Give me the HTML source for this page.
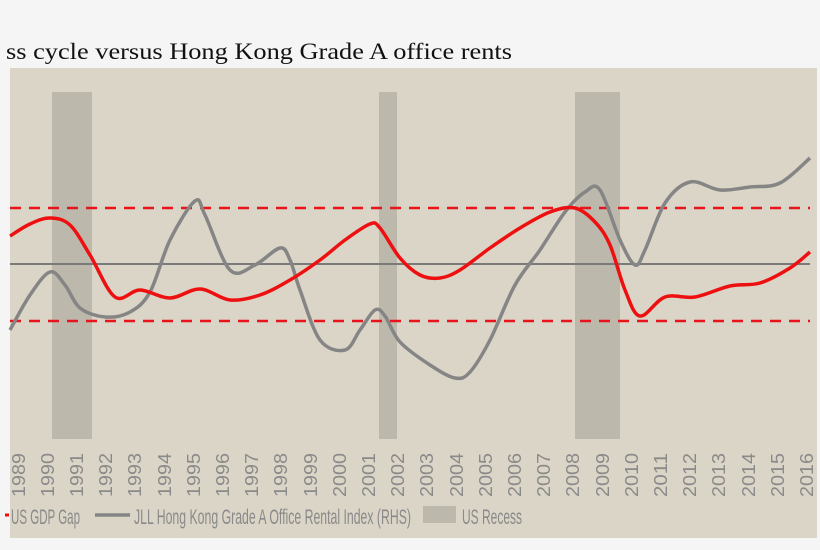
<!DOCTYPE html>
<html><head><meta charset="utf-8"><style>
html,body{margin:0;padding:0;background:#f5f5f5;width:820px;height:550px;overflow:hidden}
</style></head><body>
<svg width="820" height="550" xmlns="http://www.w3.org/2000/svg">
<rect width="820" height="550" fill="#f5f5f5"/>
<text x="6" y="59" font-family="Liberation Serif, serif" font-size="23" fill="#111" textLength="506" lengthAdjust="spacingAndGlyphs">ss cycle versus Hong Kong Grade A office rents</text>
<rect x="10" y="68" width="807" height="470" fill="#dbd5c7"/>
<g fill="#bdb8ac">
<rect x="52" y="92" width="40" height="347"/>
<rect x="379" y="92" width="18" height="347"/>
<rect x="575" y="92" width="45" height="347"/>
</g>
<line x1="10" y1="264" x2="810" y2="264" stroke="#7a7a7a" stroke-width="2"/>
<line x1="10" y1="208" x2="810" y2="208" stroke="#e8141c" stroke-width="2.5" stroke-dasharray="11,8"/>
<line x1="10" y1="321" x2="810" y2="321" stroke="#e8141c" stroke-width="2.5" stroke-dasharray="11,8"/>
<polyline class="sm" fill="none" stroke="#858585" stroke-width="3.5" stroke-linejoin="round" points="10,330 30,295 50,272 65,285 80,308 105,317 130,312 150,292 170,240 195,201 205,215 230,270 255,265 280,248 290,260 300,290 320,340 345,350 360,330 375,310 385,316 400,342 430,365 455,378 470,372 490,340 515,285 540,250 565,212 585,192 600,190 620,240 635,265 645,250 665,203 690,182 720,190 750,187 780,183 810,158"/>
<polyline class="sm" fill="none" stroke="#ee1010" stroke-width="3.5" stroke-linejoin="round" points="10,236 30,224 50,218 70,225 90,255 115,297 140,290 170,298 200,289 230,300 260,295 290,280 320,260 345,240 370,224 380,228 400,258 420,275 440,278 460,270 490,248 520,228 550,212 575,208 595,222 610,245 625,290 640,316 665,297 695,297 730,286 760,283 790,268 810,252"/>
<g font-family="Liberation Sans Narrow, Liberation Sans, sans-serif" font-size="18" fill="#8a8a8a">
<text transform="translate(25,497) rotate(-90)" textLength="44" lengthAdjust="spacingAndGlyphs">1989</text>
<text transform="translate(54,497) rotate(-90)" textLength="44" lengthAdjust="spacingAndGlyphs">1990</text>
<text transform="translate(83,497) rotate(-90)" textLength="44" lengthAdjust="spacingAndGlyphs">1991</text>
<text transform="translate(112,497) rotate(-90)" textLength="44" lengthAdjust="spacingAndGlyphs">1992</text>
<text transform="translate(141,497) rotate(-90)" textLength="44" lengthAdjust="spacingAndGlyphs">1993</text>
<text transform="translate(171,497) rotate(-90)" textLength="44" lengthAdjust="spacingAndGlyphs">1994</text>
<text transform="translate(200,497) rotate(-90)" textLength="44" lengthAdjust="spacingAndGlyphs">1995</text>
<text transform="translate(229,497) rotate(-90)" textLength="44" lengthAdjust="spacingAndGlyphs">1996</text>
<text transform="translate(258,497) rotate(-90)" textLength="44" lengthAdjust="spacingAndGlyphs">1997</text>
<text transform="translate(287,497) rotate(-90)" textLength="44" lengthAdjust="spacingAndGlyphs">1998</text>
<text transform="translate(317,497) rotate(-90)" textLength="44" lengthAdjust="spacingAndGlyphs">1999</text>
<text transform="translate(346,497) rotate(-90)" textLength="44" lengthAdjust="spacingAndGlyphs">2000</text>
<text transform="translate(375,497) rotate(-90)" textLength="44" lengthAdjust="spacingAndGlyphs">2001</text>
<text transform="translate(404,497) rotate(-90)" textLength="44" lengthAdjust="spacingAndGlyphs">2002</text>
<text transform="translate(433,497) rotate(-90)" textLength="44" lengthAdjust="spacingAndGlyphs">2003</text>
<text transform="translate(463,497) rotate(-90)" textLength="44" lengthAdjust="spacingAndGlyphs">2004</text>
<text transform="translate(492,497) rotate(-90)" textLength="44" lengthAdjust="spacingAndGlyphs">2005</text>
<text transform="translate(521,497) rotate(-90)" textLength="44" lengthAdjust="spacingAndGlyphs">2006</text>
<text transform="translate(550,497) rotate(-90)" textLength="44" lengthAdjust="spacingAndGlyphs">2007</text>
<text transform="translate(579,497) rotate(-90)" textLength="44" lengthAdjust="spacingAndGlyphs">2008</text>
<text transform="translate(609,497) rotate(-90)" textLength="44" lengthAdjust="spacingAndGlyphs">2009</text>
<text transform="translate(638,497) rotate(-90)" textLength="44" lengthAdjust="spacingAndGlyphs">2010</text>
<text transform="translate(667,497) rotate(-90)" textLength="44" lengthAdjust="spacingAndGlyphs">2011</text>
<text transform="translate(696,497) rotate(-90)" textLength="44" lengthAdjust="spacingAndGlyphs">2012</text>
<text transform="translate(725,497) rotate(-90)" textLength="44" lengthAdjust="spacingAndGlyphs">2013</text>
<text transform="translate(755,497) rotate(-90)" textLength="44" lengthAdjust="spacingAndGlyphs">2014</text>
<text transform="translate(784,497) rotate(-90)" textLength="44" lengthAdjust="spacingAndGlyphs">2015</text>
<text transform="translate(813,497) rotate(-90)" textLength="44" lengthAdjust="spacingAndGlyphs">2016</text>
</g>
<line x1="5" y1="515" x2="9" y2="515" stroke="#ee1010" stroke-width="3"/>
<line x1="95" y1="515" x2="130" y2="515" stroke="#858585" stroke-width="3.5"/>
<rect x="423" y="506" width="33" height="17" fill="#bdb8ac"/>
<g font-family="Liberation Sans Narrow, Liberation Sans, sans-serif" font-size="21" fill="#8a8a8a">
<text x="11" y="524" textLength="69" lengthAdjust="spacingAndGlyphs">US GDP Gap</text>
<text x="134" y="524" textLength="277" lengthAdjust="spacingAndGlyphs">JLL Hong Kong Grade A Office Rental Index (RHS)</text>
<text x="462" y="524" textLength="60" lengthAdjust="spacingAndGlyphs">US Recess</text>
</g>
<rect x="817" y="60" width="3" height="490" fill="#f5f5f5"/>
</svg>
<script>
document.querySelectorAll('polyline.sm').forEach(function(pl){
  var p=pl.getAttribute('points').trim().split(/\s+/).map(function(s){return s.split(',').map(Number);});
  var d='M'+p[0][0]+','+p[0][1];
  for(var i=0;i<p.length-1;i++){
    var p0=p[i-1]||p[i],p1=p[i],p2=p[i+1],p3=p[i+2]||p2;
    var c1x=p1[0]+(p2[0]-p0[0])/6,c1y=p1[1]+(p2[1]-p0[1])/6;
    var c2x=p2[0]-(p3[0]-p1[0])/6,c2y=p2[1]-(p3[1]-p1[1])/6;
    d+=' C'+c1x+','+c1y+' '+c2x+','+c2y+' '+p2[0]+','+p2[1];
  }
  var path=document.createElementNS('http://www.w3.org/2000/svg','path');
  ['fill','stroke','stroke-width','stroke-linejoin'].forEach(function(a){path.setAttribute(a,pl.getAttribute(a));});
  path.setAttribute('d',d);
  pl.parentNode.replaceChild(path,pl);
});
</script>
</body></html>
